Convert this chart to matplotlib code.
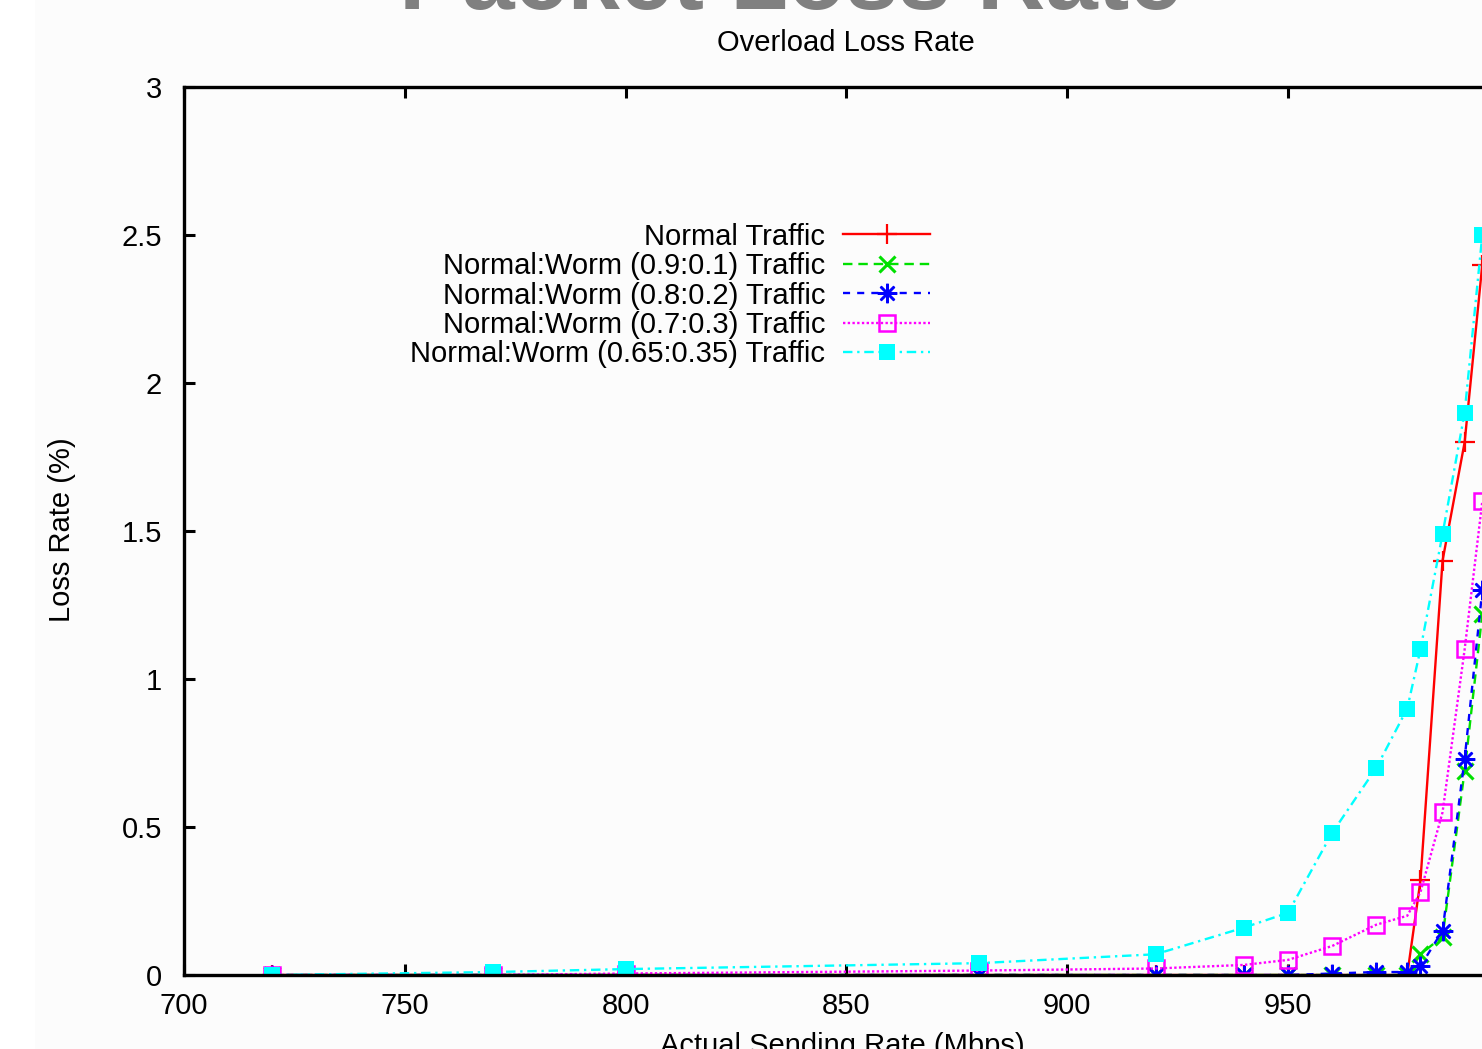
import matplotlib

matplotlib.use("Agg")

import matplotlib.pyplot as plt
from matplotlib.patches import Rectangle

plt.rcParams["font.family"] = ["Liberation Sans", "DejaVu Sans"]

# sending rate (Mbps) and loss rate (%) per traffic mix
rates = [720, 770, 800, 880, 920, 940, 950, 960, 970, 977, 980, 985, 990, 994]
normal = [0, 0, 0, 0, 0, 0, 0, 0, 0, 0, 0.32, 1.40, 1.80, 2.40]
worm_10 = [0, 0, 0, 0, 0, 0, 0, 0, 0, 0, 0.07, 0.13, 0.69, 1.22]
worm_20 = [0, 0, 0, 0, 0, 0, 0, 0.005, 0.01, 0.01, 0.03, 0.15, 0.73, 1.30]
worm_30 = [0, 0, 0.005, 0.015, 0.022, 0.034, 0.051, 0.098, 0.17, 0.20, 0.28, 0.55, 1.10, 1.60]
worm_35 = [0, 0.01, 0.02, 0.04, 0.07, 0.16, 0.21, 0.48, 0.70, 0.90, 1.10, 1.49, 1.90, 2.50]

labels = [
    "Normal Traffic",
    "Normal:Worm (0.9:0.1) Traffic",
    "Normal:Worm (0.8:0.2) Traffic",
    "Normal:Worm (0.7:0.3) Traffic",
    "Normal:Worm (0.65:0.35) Traffic",
]
xticks = [700, 750, 800, 850, 900, 950]
yticks = [0, 0.5, 1, 1.5, 2, 2.5, 3]
ytick_labels = ["0", "0.5", "1", "1.5", "2", "2.5", "3"]

W, H = 1482, 1049
fig = plt.figure(figsize=(W / 100, H / 100), dpi=100, facecolor="#fcfcfc")
fig.patches.append(Rectangle((0, 0), 35 / W, 1, transform=fig.transFigure,
                             facecolor="white", edgecolor="none", zorder=-1))

# axes run past the right edge (the source slide is cropped)
ax = fig.add_axes([184 / W, 74 / H, 1324.8 / W, 888 / H])
ax.set_facecolor("none")

lw = 1.7
ax.plot(rates, normal, color="red", ls="-", lw=lw, marker="+", ms=14, mew=1.6,
        label=labels[0])
ax.plot(rates, worm_10, color="#00e000", ls=(0, (4, 2.5)), lw=lw, marker="x",
        ms=11, mew=2.2, label=labels[1])
ax.plot(rates, worm_20, color="blue", ls=(0, (3, 3)), lw=lw, marker=(8, 2, 0),
        ms=14, mew=1.8, label=labels[2])
ax.plot(rates, worm_30, color="magenta", ls=(0, (1, 1)), lw=lw, marker="s",
        ms=11, mew=1.8, mfc="none", label=labels[3])
ax.plot(rates, worm_35, color="cyan", ls=(0, (4, 2, 1, 2)), lw=lw, marker="s",
        ms=11, mew=0, label=labels[4])

ax.set_xlim(700, 1000)
ax.set_ylim(0, 3)
ax.set_xticks(xticks)
ax.set_yticks(yticks)
ax.set_yticklabels(ytick_labels)
ax.tick_params(direction="in", length=8, width=2.2, labelsize=21,
               top=True, right=False)
ax.tick_params(axis="x", pad=12)
ax.tick_params(axis="y", pad=16)
for side in ("left", "top", "bottom"):
    ax.spines[side].set_linewidth(2.4)
ax.spines["right"].set_visible(False)

ax.legend(loc="upper right", bbox_to_anchor=(945 / W, 1 - 208 / H),
          bbox_transform=fig.transFigure, frameon=False, markerfirst=False,
          fontsize=21, handlelength=3.0, handletextpad=0.6, labelspacing=0.05,
          borderpad=0, numpoints=1)

fig.text(846 / W, 1 - 43 / H, "Overload Loss Rate", fontsize=21,
         ha="center", va="center")
fig.text(790 / W, 1 - 9 / H, "Packet Loss Rate", fontsize=68,
         fontweight="bold", color="#808080", ha="center", va="baseline")
fig.text(62 / W, 1 - 530 / H, "Loss Rate (%)", fontsize=21, rotation=90,
         ha="center", va="center")
fig.text(842 / W, 1 - 1032 / H, "Actual Sending Rate (Mbps)", fontsize=21,
         ha="center", va="top")

fig.savefig("out.png", dpi=100, facecolor=fig.get_facecolor())
